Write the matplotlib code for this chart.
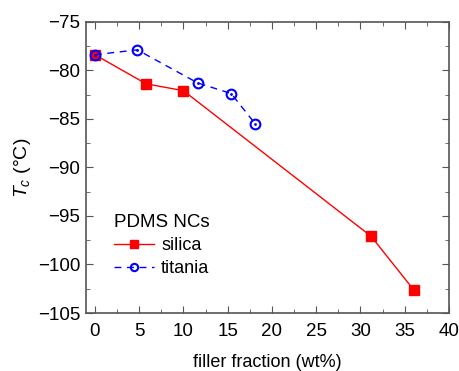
'''
Glass transition temperature of PDMS nanocomposites vs filler fraction.
'''

import matplotlib
matplotlib.use('Agg')
from matplotlib import pyplot as plt
from matplotlib.ticker import MultipleLocator

plt.rcParams['font.family'] = ['Liberation Sans', 'DejaVu Sans']
plt.rcParams['mathtext.fontset'] = 'custom'
plt.rcParams['mathtext.it'] = 'Liberation Sans:italic'
plt.rcParams['mathtext.rm'] = 'Liberation Sans'

# data
silica_x = [0, 5.8, 10, 31.2, 36]
silica_tc = [-78.4, -81.4, -82.1, -97.1, -102.6]
titania_x = [0, 4.8, 11.6, 15.4, 18.1]
titania_tc = [-78.4, -77.9, -81.3, -82.4, -85.5]

fig = plt.figure(figsize=(4.6, 3.71), dpi=100)
ax = fig.add_axes([86/460, 1 - 313/371, (449 - 86)/460, (313 - 21.7)/371])

ax.plot(silica_x, silica_tc, c='red', lw=1, marker='s', ms=7,
        mfc='red', mec='red', label='silica')
ax.plot(titania_x, titania_tc, c='blue', lw=1, ls=(0, (5, 4)), marker='o', ms=7,
        mfc='none', mec='blue', mew=1.5, label='titania')
ax.plot(titania_x, titania_tc, ls='none', marker='.', ms=2, c='blue')

ax.set_xlim(-1, 40)
ax.set_ylim(-105, -75)
ax.xaxis.set_major_locator(MultipleLocator(5))
ax.xaxis.set_minor_locator(MultipleLocator(2.5))
ax.yaxis.set_major_locator(MultipleLocator(5))
ax.yaxis.set_minor_locator(MultipleLocator(2.5))
ax.tick_params(which='both', direction='in', top=True, right=True,
               labelsize=13.5, color='#555555')
ax.tick_params(axis='x', pad=7)
ax.tick_params(axis='y', pad=4)
ax.tick_params(which='major', length=5)
ax.tick_params(which='minor', length=3)
for s in ax.spines.values():
    s.set_color('#555555')
    s.set_linewidth(1.2)

ax.set_xlabel('filler fraction (wt%)', fontsize=13, labelpad=10)
ax.set_ylabel(r'$T_c$ (°C)', fontsize=14, labelpad=4)

leg = ax.legend(title='PDMS NCs', loc='lower left', bbox_to_anchor=(0.053, 0.092),
                frameon=False, fontsize=13, title_fontsize=13.5, handlelength=2.2,
                handletextpad=0.4, borderpad=0, labelspacing=0.35,
                markerscale=0.75, handles=ax.get_lines()[:2])
leg._legend_box.align = 'left'

fig.savefig('out.png', dpi=100)
